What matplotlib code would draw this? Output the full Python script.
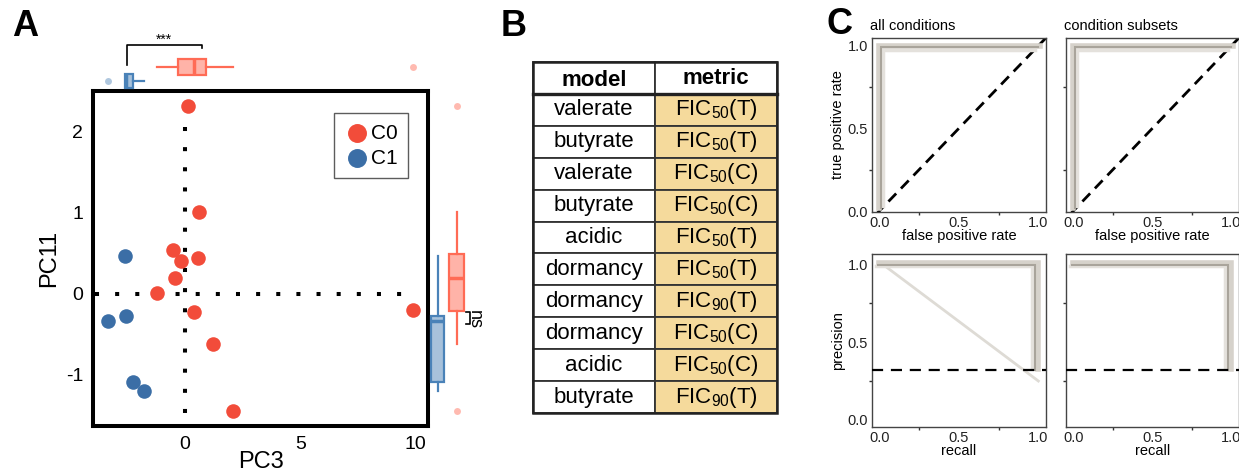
import numpy as np
import matplotlib
matplotlib.use('Agg')
import matplotlib.pyplot as plt
from matplotlib.patches import Rectangle

plt.rcParams['font.family'] = ['Liberation Sans', 'DejaVu Sans']
plt.rcParams['axes.unicode_minus'] = False
plt.rcParams['mathtext.fontset'] = 'custom'
plt.rcParams['mathtext.rm'] = 'Liberation Sans'
plt.rcParams['mathtext.it'] = 'Liberation Sans:italic'
plt.rcParams['mathtext.bf'] = 'Liberation Sans:bold'

# ---- panel A data (PC3, PC11) ----
c0_pc3 = [0.13, 0.61, -0.54, -0.19, 0.55, -0.42, -1.20, 0.38, 1.22, 2.09, 9.90]
c0_pc11 = [2.32, 1.01, 0.54, 0.40, 0.44, 0.19, 0.01, -0.23, -0.62, -1.44, -0.20]
c1_pc3 = [-2.61, -2.58, -3.37, -2.25, -1.79]
c1_pc11 = [0.47, -0.27, -0.33, -1.09, -1.20]
group_labels = ['C0', 'C1']

# ---- panel B data ----
models = ['valerate', 'butyrate', 'valerate', 'butyrate', 'acidic',
          'dormancy', 'dormancy', 'dormancy', 'acidic', 'butyrate']
metric_level = ['50', '50', '50', '50', '50', '50', '90', '50', '50', '90']
metric_cond = ['T', 'T', 'C', 'C', 'T', 'T', 'T', 'C', 'C', 'T']

# ---- panel C data (curves per panel) ----
roc_all = [([0.0, 0.0, 1.01], [0.02, 1.0, 1.0]),
           ([0.025, 0.025, 0.98], [0.03, 0.975, 0.975]),
           ([0.01, 0.01, 1.0], [0.02, 0.99, 0.99])]
roc_sub = [([0.0, 0.0, 1.01], [0.02, 1.0, 1.0]),
           ([0.025, 0.025, 0.98], [0.03, 0.975, 0.975]),
           ([0.01, 0.01, 1.0], [0.02, 0.99, 0.99])]
pr_all = [([0.0, 1.0, 1.0], [1.01, 1.01, 0.33]),
          ([-0.02, 0.96, 0.96], [0.985, 0.985, 0.34]),
          ([-0.01, 0.98, 0.98], [0.995, 0.995, 0.32])]
pr_all_diag = ([0.02, 1.0], [1.0, 0.25])
pr_sub = [([0.0, 1.0, 1.0], [1.01, 1.01, 0.33]),
          ([-0.02, 0.96, 0.96], [0.985, 0.985, 0.34]),
          ([-0.01, 0.98, 0.98], [0.995, 0.995, 0.32])]
pr_baseline = 0.32

RED = '#F24C3A'
BLUE = '#3B6EA6'
RED_EDGE = '#FF6B55'
RED_FILL = '#FFB3A8'
BLUE_EDGE = '#4A82B8'
BLUE_FILL = '#A7C1DB'

W, H = 1239, 476
fig = plt.figure(figsize=(W / 100, H / 100), dpi=100)


def px_axes(l, t, r, b):
    return fig.add_axes([l / W, 1 - b / H, (r - l) / W, (b - t) / H])


# ================= panel A =================
ax = px_axes(93, 91, 428, 426)
ax.set_xlim(-4.0, 10.55)
ax.set_ylim(-1.63, 2.5)
ax.plot([0, 0], [2.06, -1.63], color='black', lw=2.9, ls=(0, (1, 4)),
        dash_capstyle='butt', zorder=1)
ax.plot([-3.9, 9.95], [0, 0], color='black', lw=2.9, ls=(0, (1, 4)),
        dash_capstyle='butt', zorder=1)
ax.scatter(c0_pc3, c0_pc11, s=110, color=RED, lw=0, zorder=3, label=group_labels[0])
ax.scatter(c1_pc3, c1_pc11, s=110, color=BLUE, lw=0, zorder=3, label=group_labels[1])
ax.set_xticks([0, 5, 10])
ax.set_yticks([-1, 0, 1, 2])
ax.tick_params(length=0, labelsize=14, pad=7)
for s in ax.spines.values():
    s.set_linewidth(2.9)
ax.set_xlabel('PC3', fontsize=17, labelpad=-1)
ax.set_ylabel('PC11', fontsize=17, labelpad=4)
leg = ax.legend(loc='upper right', bbox_to_anchor=(0.94, 0.934), borderaxespad=0,
                fontsize=15, frameon=True, fancybox=False, handletextpad=0.05,
                borderpad=0.5, labelspacing=0.3, handlelength=1.2, markerscale=1.3)
leg.get_frame().set_edgecolor('#333333')
leg.get_frame().set_linewidth(1.0)


def style_box(bp, edges, fills):
    for i, (ec, fc) in enumerate(zip(edges, fills)):
        bp['boxes'][i].set(facecolor=fc, edgecolor=ec, linewidth=1.6)
        bp['medians'][i].set(color=ec, linewidth=2.5)
        bp['whiskers'][2 * i].set(color=ec, linewidth=1.6)
        bp['whiskers'][2 * i + 1].set(color=ec, linewidth=1.6)
        bp['fliers'][i].set(marker='o', markerfacecolor=fc, markeredgecolor='none',
                            markersize=5, alpha=0.9)


# top marginal boxplots (PC3)
axt = px_axes(93, 28, 428, 91)
axt.set_xlim(-4.0, 10.55)
axt.set_ylim(91, 28)
bp = axt.boxplot([c1_pc3, c0_pc3], orientation='horizontal', positions=[81, 67],
                 widths=[14, 16], patch_artist=True, showcaps=False)
style_box(bp, [BLUE_EDGE, RED_EDGE], [BLUE_FILL, RED_FILL])
axt.plot([-2.53, -2.53, 0.73, 0.73], [65, 45, 45, 48], color='black', lw=1.2)
axt.text(-0.9, 40, '***', ha='center', va='center', fontsize=10)
axt.axis('off')

# right marginal boxplots (PC11)
axr = px_axes(428, 91, 500, 426)
axr.set_ylim(-1.63, 2.5)
axr.set_xlim(428, 500)
bp = axr.boxplot([c1_pc11, c0_pc11], positions=[437.5, 456.5], widths=[13, 15],
                 patch_artist=True, showcaps=False)
style_box(bp, [BLUE_EDGE, RED_EDGE], [BLUE_FILL, RED_FILL])
axr.plot([466, 470, 470, 466], [-0.22, -0.22, -0.37, -0.37], color='black', lw=1.2)
axr.text(474, -0.32, 'ns', rotation=-90, ha='center', va='center', fontsize=13)
axr.axis('off')

# ================= panel B =================
axb = px_axes(533, 62, 777, 413)
nrow = len(models) + 1
axb.set_xlim(0, 2)
axb.set_ylim(nrow, 0)
axb.axis('off')
for i in range(nrow):
    for j in range(2):
        fc = '#F5DA9C' if (j == 1 and i > 0) else 'white'
        axb.add_patch(Rectangle((j, i), 1, 1, facecolor=fc, edgecolor='#333333',
                                lw=1.3, clip_on=False))
axb.add_patch(Rectangle((0, 0), 2, nrow, facecolor='none', edgecolor='#222222',
                        lw=1.8, clip_on=False))
axb.plot([0, 2], [1, 1], color='#222222', lw=2.4, clip_on=False)
axb.text(0.5, 0.58, 'model', ha='center', va='center', fontsize=16, fontweight='bold')
axb.text(1.5, 0.52, 'metric', ha='center', va='center', fontsize=16, fontweight='bold')
for i, (m, lv, cd) in enumerate(zip(models, metric_level, metric_cond)):
    axb.text(0.5, i + 1.5, m, ha='center', va='center', fontsize=16)
    axb.text(1.5, i + 1.5, r'FIC$_{\mathrm{%s}}$(%s)' % (lv, cd), ha='center',
             va='center', fontsize=16)


# ================= panel C =================
def style_c(a, show_y, xlabel, ylabel, title=None):
    a.set_xlim(-0.046, 1.048)
    a.set_xticks([0, 0.5, 1.0])
    a.set_xticks([0.25, 0.75], minor=True)
    a.set_yticks([0.25, 0.75], minor=True)
    a.tick_params(which='major', length=0, labelsize=10.5, pad=3, colors='#222222')
    a.tick_params(which='minor', length=2, width=1, color='#333333')
    for s in a.spines.values():
        s.set_linewidth(1.0)
        s.set_color('#444444')
    if not show_y:
        a.set_yticklabels([])
    else:
        a.set_ylabel(ylabel, fontsize=10.5, labelpad=2)
    a.set_xlabel(xlabel, fontsize=10.5, labelpad=-1)
    if title:
        a.set_title(title, fontsize=10.5, loc='left', x=-0.01, pad=6)


band_colors = ['#D6D2CB', '#E4E1DC', '#A9A49B']
band_widths = [4.0, 2.5, 1.5]

for (l, r), curves, show_y, title in [((872, 1046), roc_all, True, 'all conditions'),
                                       ((1066, 1239), roc_sub, False, 'condition subsets')]:
    a = px_axes(l, 38, r, 212)
    a.set_ylim(-0.006, 1.047)
    a.set_yticks([0, 0.5, 1.0])
    a.plot([-0.1, 1.1], [-0.1, 1.1], color='black', lw=2.0, ls=(0, (4, 2.5)), zorder=1)
    for (fx, ty), c, w in zip(curves, band_colors, band_widths):
        a.plot(fx, ty, color=c, lw=w, solid_joinstyle='miter', zorder=2)
    style_c(a, show_y, 'false positive rate', 'true positive rate', title)

for (l, r), curves, show_y in [((872, 1046), pr_all, True), ((1066, 1239), pr_sub, False)]:
    a = px_axes(l, 254, r, 427)
    a.set_ylim(-0.045, 1.065)
    a.set_yticks([0, 0.5, 1.0])
    if show_y:
        a.plot(pr_all_diag[0], pr_all_diag[1], color='#DEDBD5', lw=2.0, zorder=2)
    for (rc, pc), c, w in zip(curves, band_colors, band_widths):
        a.plot(rc, pc, color=c, lw=w, solid_joinstyle='miter', zorder=2)
    a.axhline(pr_baseline, color='black', lw=1.6, ls=(0, (5, 3.5)), zorder=3)
    style_c(a, show_y, 'recall', 'precision')

# panel letters
fig.text(25 / W, 1 - 27 / H, 'A', fontsize=26, fontweight='bold', ha='center', va='center')
fig.text(514 / W, 1 - 26 / H, 'B', fontsize=26, fontweight='bold', ha='center', va='center')
fig.text(839 / W, 1 - 25 / H, 'C', fontsize=26, fontweight='bold', ha='center', va='center')

fig.savefig('out.png', dpi=100)
